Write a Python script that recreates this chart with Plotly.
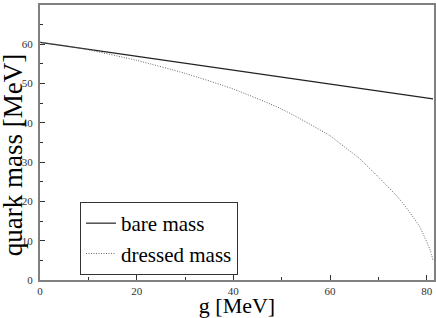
import plotly.graph_objects as go

g_bare = [0, 81.3]
bare_mass = [60.5, 46.1]

g_dressed = [0, 5, 10, 20, 30, 40, 50, 60, 62, 66, 70, 74.5, 78.5, 80.7, 81.3]
dressed_mass = [60.5, 59.7, 58.6, 55.9, 52.6, 48.6, 43.5, 36.7, 34.8, 31.0, 26.2, 20.4, 13.6, 7.6, 5.0]

x_ticks = [0, 20, 40, 60, 80]
y_ticks = [0, 10, 20, 30, 40, 50, 60, 70]

serif = "Liberation Serif, Times New Roman, serif"

fig = go.Figure()
fig.add_trace(go.Scatter(x=g_bare, y=bare_mass, mode="lines", name="bare mass",
                         line=dict(color="#222222", width=1.2)))
fig.add_trace(go.Scatter(x=g_dressed, y=dressed_mass, mode="lines", name="dressed mass",
                         line=dict(color="#666666", width=1, dash="1px,1.5px", shape="spline",
                                   smoothing=0.6)))

axis_common = dict(showline=True, linecolor="#808080", linewidth=2, mirror=True,
                   showgrid=False, zeroline=False, ticks="inside", ticklen=5,
                   tickcolor="#333333", tickwidth=1, automargin=False,
                   tickfont=dict(family=serif, size=11, color="#333333"))

fig.update_xaxes(range=[0, 81.5], tickvals=x_ticks, ticktext=[str(v) for v in x_ticks],
                 minor=dict(dtick=10, tick0=0, ticks="inside", ticklen=3, tickcolor="#333333"),
                 title=dict(text="g [MeV]", font=dict(family=serif, size=22, color="black"), standoff=0),
                 **axis_common)
fig.update_yaxes(range=[0, 70], tickvals=y_ticks, ticktext=[str(v) for v in y_ticks],
                 minor=dict(dtick=5, tick0=0, ticks="inside", ticklen=3, tickcolor="#333333"),
                 ticklabelstandoff=3,
                 **axis_common)

fig.add_annotation(text="quark mass [MeV]", textangle=-90, showarrow=False,
                   xref="paper", yref="paper", x=-0.07, y=0.455,
                   xanchor="center", yanchor="middle",
                   font=dict(family=serif, size=27, color="black"))

fig.update_layout(
    width=436, height=318,
    margin=dict(l=40, r=2, t=5, b=38),
    paper_bgcolor="white", plot_bgcolor="white",
    showlegend=True,
    legend=dict(x=0.1015, y=0.2836, xanchor="left", yanchor="top",
                bgcolor="white", bordercolor="#333333", borderwidth=1,
                font=dict(family=serif, size=21, color="black"),
                itemwidth=30, tracegroupgap=0),
)

fig.write_html("out.html", config={"displayModeBar": False},
               post_script="document.body.style.margin='0';document.body.style.padding='0';")
